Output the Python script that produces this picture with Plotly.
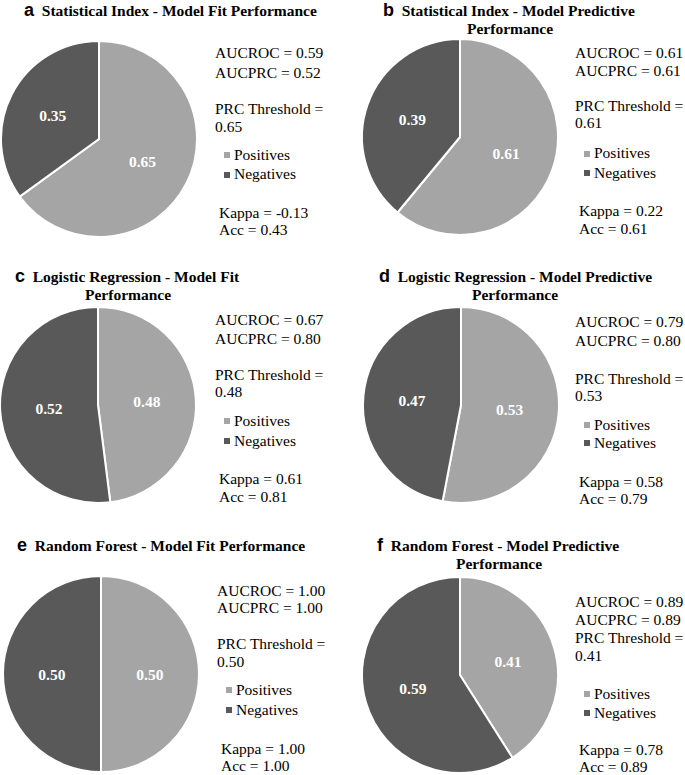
import plotly.graph_objects as go

# ---------------- data ----------------
letters = ["a", "b", "c", "d", "e", "f"]
title_line1 = [
    "Statistical Index - Model Fit Performance",
    "Statistical Index - Model Predictive",
    "Logistic Regression - Model Fit",
    "Logistic Regression - Model Predictive",
    "Random Forest - Model Fit Performance",
    "Random Forest - Model Predictive",
]
title_line2 = ["", "Performance", "Performance", "Performance", "", "Performance"]
slice_labels = ["Positives", "Negatives"]
positives = [0.65, 0.61, 0.48, 0.53, 0.50, 0.41]
negatives = [0.35, 0.39, 0.52, 0.47, 0.50, 0.59]
aucroc = [0.59, 0.61, 0.67, 0.79, 1.00, 0.89]
aucprc = [0.52, 0.61, 0.80, 0.80, 1.00, 0.89]
prc_threshold = [0.65, 0.61, 0.48, 0.53, 0.50, 0.41]
kappa = [-0.13, 0.22, 0.61, 0.58, 1.00, 0.78]
acc = [0.43, 0.61, 0.81, 0.79, 1.00, 0.89]

# ---------------- layout config (pixels) ----------------
W, H = 685, 775
pie_centers = [(99, 139), (460, 137), (98, 405), (461, 405), (101, 674), (460, 675)]
pie_r = 98
title_pos1 = [(170, 10), (509, 10), (128, 276), (515, 276), (161, 545), (498, 545)]
title_pos2 = [None, (510, 28), (128, 294), (515, 294), None, (499, 563)]
text_x = [213, 573, 213, 573, 215, 573]
text_y = [
    [53, 72, 108, 126, 154, 174, 212, 230],
    [52, 70, 106, 123, 153, 172, 211, 228],
    [320, 338, 374, 391, 420, 440, 478, 496],
    [321, 340, 378, 395, 424, 442, 481, 498],
    [590, 607, 643, 661, 689, 709, 748, 765],
    [601, 619, 637, 655, 693, 712, 749, 766],
]

POS_COLOR = "#A5A5A5"
NEG_COLOR = "#595959"
SERIF = "Liberation Serif, Times New Roman, serif"
FS = 15.5


def px(x):
    return x / W


def py(y):
    return 1 - y / H


fig = go.Figure()
annotations = []
shapes = []

for i in range(6):
    cx, cy = pie_centers[i]
    fig.add_trace(go.Pie(
        labels=slice_labels,
        values=[positives[i], negatives[i]],
        sort=False,
        direction="clockwise",
        rotation=0,
        marker=dict(colors=[POS_COLOR, NEG_COLOR], line=dict(color="white", width=2)),
        textinfo="value",
        texttemplate="<b>%{value:.2f}</b>",
        textposition="inside",
        insidetextorientation="horizontal",
        textfont=dict(family=SERIF, size=FS, color="white"),
        domain=dict(x=[px(cx - pie_r), px(cx + pie_r)], y=[py(cy + pie_r), py(cy - pie_r)]),
        showlegend=False,
        hoverinfo="label+value",
    ))

    # titles
    tx, ty = title_pos1[i]
    annotations.append(dict(
        x=px(tx), y=py(ty), xref="paper", yref="paper", xanchor="center", yanchor="middle",
        showarrow=False,
        text=('<span style="font-family:Liberation Sans, Arial, sans-serif;font-size:18px">'
              + letters[i] + '</span>&nbsp; ' + title_line1[i]),
        font=dict(family=SERIF, size=FS, color="black", weight="bold"),
    ))
    if title_line2[i]:
        tx2, ty2 = title_pos2[i]
        annotations.append(dict(
            x=px(tx2), y=py(ty2), xref="paper", yref="paper", xanchor="center", yanchor="middle",
            showarrow=False, text=title_line2[i],
            font=dict(family=SERIF, size=FS, color="black", weight="bold"),
        ))

    # side text
    x0 = text_x[i]
    ys = text_y[i]
    lines = [
        (x0, ys[0], f"AUCROC = {aucroc[i]:.2f}"),
        (x0, ys[1], f"AUCPRC = {aucprc[i]:.2f}"),
        (x0, ys[2], "PRC Threshold ="),
        (x0, ys[3], f"{prc_threshold[i]:.2f}"),
        (x0 + 19, ys[4], slice_labels[0]),
        (x0 + 19, ys[5], slice_labels[1]),
        (x0 + 4, ys[6], f"Kappa = {kappa[i]:.2f}"),
        (x0 + 4, ys[7], f"Acc = {acc[i]:.2f}"),
    ]
    for lx, ly, t in lines:
        annotations.append(dict(
            x=px(lx), y=py(ly), xref="paper", yref="paper", xanchor="left", yanchor="middle",
            showarrow=False, text=t, font=dict(family=SERIF, size=FS, color="black"),
        ))
    # legend squares
    for k, col in enumerate([POS_COLOR, NEG_COLOR]):
        sy = ys[4 + k] + 1
        sx = x0 + 11
        shapes.append(dict(
            type="rect", xref="paper", yref="paper",
            x0=px(sx), x1=px(sx + 6), y0=py(sy + 3), y1=py(sy - 3),
            fillcolor=col, line=dict(width=0),
        ))

fig.update_layout(
    width=W, height=H,
    margin=dict(l=0, r=0, t=0, b=0),
    paper_bgcolor="white", plot_bgcolor="white",
    annotations=annotations,
    shapes=shapes,
    showlegend=False,
)

fig.write_html(
    "out.html",
    config={"displayModeBar": False},
    post_script=("document.body.style.margin='0';document.body.style.padding='0';"
                 "document.body.style.overflow='hidden';"
                 "document.documentElement.style.overflow='hidden';"),
)
